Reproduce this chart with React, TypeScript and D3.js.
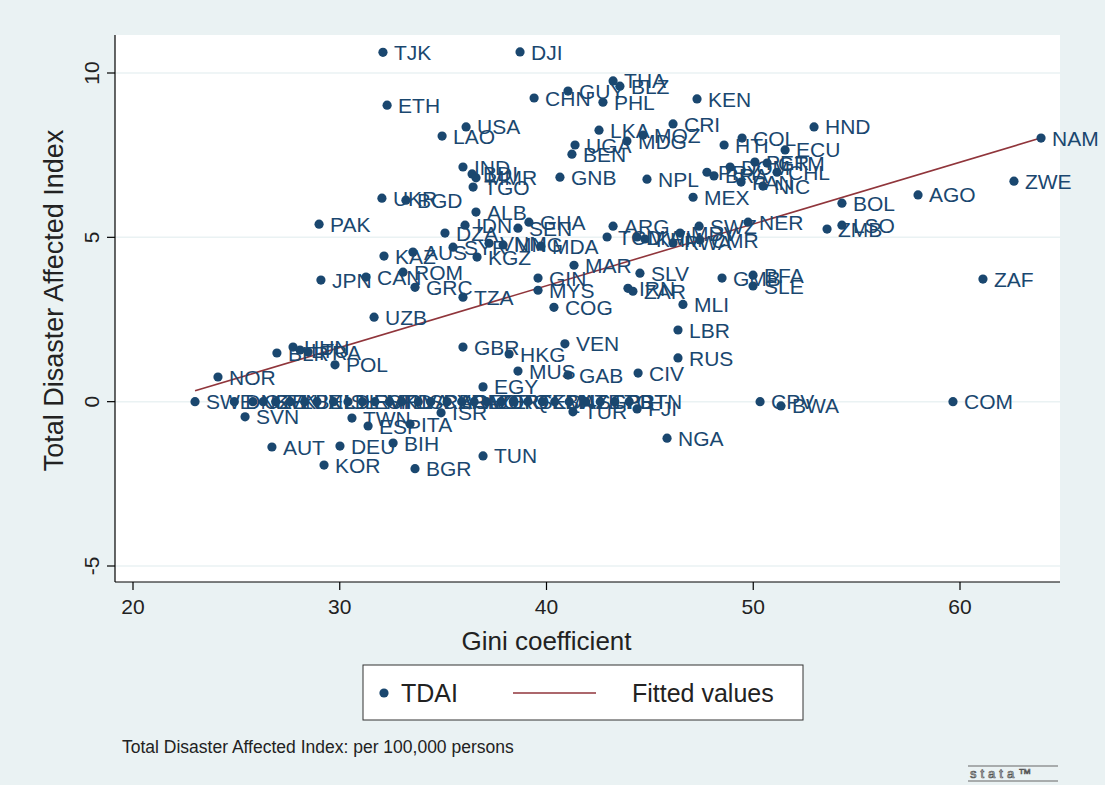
import React from "react";
import * as d3 from "d3";

// country codes, Gini coefficient and Total Disaster Affected Index
const countryCodes = [
  "TJK", "DJI", "ETH", "CHN", "GUY", "THA", "BLZ", "PHL", "KEN", "LAO",
  "USA", "LKA", "CRI", "MOZ", "MDG", "UGA", "BEN", "HND", "COL", "HTI",
  "ECU", "GNB", "NPL", "MEX", "PRY", "BRA", "DOM", "PER", "GTM", "CHL",
  "PAN", "NIC", "BOL", "AGO", "ZWE", "NAM", "LSO", "ZMB", "ZAF", "NER",
  "SWZ", "ARG", "TCD", "MWI", "KHM", "MDV", "RWA", "CMR", "MDA", "GHA",
  "SEN", "ALB", "IDN", "DZA", "SYR", "VNM", "MNG", "KGZ", "KAZ", "AUS",
  "PAK", "UKR", "BGD", "IND", "BDI", "MMR", "TGO", "GRC", "ROM", "CAN",
  "JPN", "TZA", "UZB", "GBR", "HKG", "MUS", "VEN", "GAB", "CIV", "EGY",
  "LBR", "RUS", "NGA", "TUN", "TUR", "FJI", "ISR", "ESP", "ITA", "TWN",
  "SVN", "AUT", "DEU", "BIH", "KOR", "BGR", "NOR", "POL", "BLR", "HUN",
  "LTU", "FRA", "SWE", "CPV", "BWA", "COM", "MAR", "GIN", "MYS", "COG",
  "SLV", "IRN", "ZAR", "MLI", "GMB", "BFA", "SLE",
  "DNK", "CZE", "SVK", "FIN", "LUX", "BEL", "NLD", "ISL", "HRV", "EST",
  "MKD", "IRL", "LVA", "SRB", "CYP", "ARM", "GEO", "AZE", "JOR", "IRQ",
  "PSE", "TKM", "LBN", "QAT", "NZL", "SGP", "TTO", "PRT", "BTN",
];

const giniValues = [
  32.09, 38.72, 32.29, 39.4, 41.04, 43.22, 43.55, 42.73, 47.28, 34.95,
  36.11, 42.54, 46.12, 44.67, 43.89, 41.38, 41.23, 52.94, 49.46, 48.59,
  51.54, 40.65, 44.86, 47.09, 47.76, 48.1, 48.88, 50.08, 50.67, 51.15,
  49.41, 50.47, 54.29, 57.97, 62.61, 63.92, 54.29, 53.57, 61.11, 49.75,
  47.38, 43.22, 42.93, 44.38, 44.76, 46.46, 46.12, 47.42, 39.73, 39.15,
  38.62, 36.59, 36.06, 35.09, 35.48, 37.22, 37.9, 36.64, 32.14, 33.54,
  29.0, 32.04, 33.2, 35.96, 36.4, 36.59, 36.45, 33.64, 33.06, 31.27,
  29.09, 35.96, 31.66, 35.96, 38.19, 38.62, 40.89, 41.04, 44.43, 36.93,
  46.36, 46.36, 45.83, 36.93, 41.28, 44.38, 34.9, 31.37, 33.4, 30.59,
  25.42, 26.72, 30.01, 32.58, 29.24, 33.64, 24.11, 29.77, 26.96, 27.74,
  28.08, 28.47, 23.0, 50.33, 51.34, 59.66, 41.33, 39.59, 39.59, 40.36,
  44.52, 43.94, 44.18, 46.6, 48.49, 49.99, 49.99,
  24.9, 25.8, 26.3, 26.9, 27.6, 28.3, 28.9, 29.7, 30.4, 31.1,
  31.7, 32.4, 33.0, 33.8, 34.4, 35.2, 35.9, 36.5, 37.1, 37.8,
  38.4, 39.1, 39.8, 40.4, 41.1, 41.9, 42.6, 43.3, 44.0,
];

const tdaiValues = [
  10.63, 10.64, 9.02, 9.24, 9.45, 9.76, 9.6, 9.11, 9.21, 8.08,
  8.36, 8.26, 8.45, 8.11, 7.93, 7.81, 7.53, 8.36, 8.02, 7.81,
  7.66, 6.83, 6.77, 6.22, 6.98, 6.87, 7.14, 7.29, 7.26, 6.98,
  6.68, 6.56, 6.04, 6.29, 6.71, 8.02, 5.37, 5.25, 3.73, 5.46,
  5.34, 5.34, 5.01, 5.01, 4.95, 5.13, 4.83, 4.92, 4.73, 5.46,
  5.28, 5.77, 5.37, 5.13, 4.7, 4.82, 4.77, 4.4, 4.43, 4.55,
  5.4, 6.19, 6.13, 7.14, 6.93, 6.81, 6.53, 3.48, 3.94, 3.79,
  3.7, 3.18, 2.57, 1.66, 1.45, 0.93, 1.76, 0.81, 0.87, 0.45,
  2.18, 1.33, -1.11, -1.65, -0.31, -0.22, -0.34, -0.74, -0.68, -0.5,
  -0.46, -1.38, -1.35, -1.26, -1.93, -2.04, 0.75, 1.12, 1.48, 1.66,
  1.57, 1.51, 0, 0, -0.13, 0, 4.15, 3.76, 3.39, 2.87,
  3.91, 3.45, 3.36, 2.96, 3.76, 3.85, 3.52,
  0, 0, 0, 0, 0, 0, 0, 0, 0, 0,
  0, 0, 0, 0, 0, 0, 0, 0, 0, 0,
  0, 0, 0, 0, 0, 0, 0, 0, 0,
];

// fitted values line (ends)
const fittedGini = [23.0, 63.9];
const fittedTdai = [0.33, 8.02];

const xTicks = [20, 30, 40, 50, 60];
const yTicks = [-5, 0, 5, 10];

const navy = "#1a476f";
const maroon = "#90353b";
const bg = "#eaf2f3";
const font = "'Liberation Sans', Arial, sans-serif";

export default function App() {
  const plot = { left: 115, right: 1060, top: 35, bottom: 582 };

  const x = d3.scaleLinear().domain([20, 60]).range([133, 960]);
  const y = d3.scaleLinear().domain([-5, 10]).range([566, 73]);

  const points = countryCodes.map((code, i) => ({
    code,
    gini: giniValues[i],
    tdai: tdaiValues[i],
  }));

  const fitLine = d3
    .line<number>()
    .x((d) => x(d))
    .y((_, i) => y(fittedTdai[i]));

  return (
    <div style={{ position: "fixed", left: 0, top: 0 }}>
      <svg width={1105} height={785} style={{ display: "block", fontFamily: font }}>
        <rect width={1105} height={785} fill={bg} />
        <rect
          x={plot.left}
          y={plot.top}
          width={plot.right - plot.left}
          height={plot.bottom - plot.top}
          fill="#fff"
        />

        {/* grid */}
        {yTicks.map((t) => (
          <line
            key={"g" + t}
            x1={plot.left}
            x2={plot.right}
            y1={y(t)}
            y2={y(t)}
            stroke={bg}
            strokeWidth={1.5}
          />
        ))}

        {/* fitted line */}
        <path d={fitLine(fittedGini) || ""} fill="none" stroke={maroon} strokeWidth={1.6} />

        {/* points */}
        {points.map((p) => (
          <circle key={"c" + p.code} cx={x(p.gini)} cy={y(p.tdai)} r={4.6} fill={navy} />
        ))}
        {points.map((p) => (
          <text
            key={"t" + p.code}
            x={x(p.gini) + 11}
            y={y(p.tdai)}
            dy="0.36em"
            fontSize={21}
            fill={navy}
          >
            {p.code}
          </text>
        ))}

        {/* axes */}
        <line x1={plot.left} x2={plot.left} y1={plot.top} y2={plot.bottom} stroke="#000" strokeWidth={1.2} />
        <line x1={plot.left} x2={plot.right} y1={plot.bottom} y2={plot.bottom} stroke="#000" strokeWidth={1.2} />
        {yTicks.map((t) => (
          <g key={"y" + t}>
            <line x1={plot.left - 8} x2={plot.left} y1={y(t)} y2={y(t)} stroke="#000" strokeWidth={1.2} />
            <text
              transform={`translate(${plot.left - 16},${y(t)}) rotate(-90)`}
              textAnchor="middle"
              fontSize={21}
              fill="#222"
            >
              {t}
            </text>
          </g>
        ))}
        {xTicks.map((t) => (
          <g key={"x" + t}>
            <line x1={x(t)} x2={x(t)} y1={plot.bottom} y2={plot.bottom + 8} stroke="#000" strokeWidth={1.2} />
            <text x={x(t)} y={plot.bottom + 32} textAnchor="middle" fontSize={21} fill="#222">
              {t}
            </text>
          </g>
        ))}

        {/* axis titles */}
        <text x={x(40)} y={650} textAnchor="middle" fontSize={26} fill="#222">
          Gini coefficient
        </text>
        <text
          transform={`translate(63,${(plot.top + plot.bottom) / 2 - 8}) rotate(-90)`}
          textAnchor="middle"
          fontSize={27}
          fill="#222"
        >
          Total Disaster Affected Index
        </text>

        {/* legend */}
        <rect x={363} y={665} width={440} height={55} fill="#fff" stroke="#333" strokeWidth={1} />
        <circle cx={384} cy={693} r={4.6} fill={navy} />
        <text x={401} y={702} fontSize={25} fill="#222">
          TDAI
        </text>
        <line x1={513} x2={596} y1={693} y2={693} stroke={maroon} strokeWidth={1.6} />
        <text x={632} y={702} fontSize={25} fill="#222">
          Fitted values
        </text>

        {/* note */}
        <text x={122} y={753} fontSize={17.5} fill="#222">
          Total Disaster Affected Index: per 100,000 persons
        </text>

        {/* stata mark */}
        <line x1={968} x2={1058} y1={766} y2={766} stroke="#666" strokeWidth={1} />
        <text
          x={970}
          y={778}
          fontSize={13}
          fill="none"
          stroke="#555"
          strokeWidth={0.7}
          letterSpacing={4}
        >
          stata™
        </text>
        <line x1={968} x2={1058} y1={781} y2={781} stroke="#666" strokeWidth={1} />
      </svg>
    </div>
  );
}
